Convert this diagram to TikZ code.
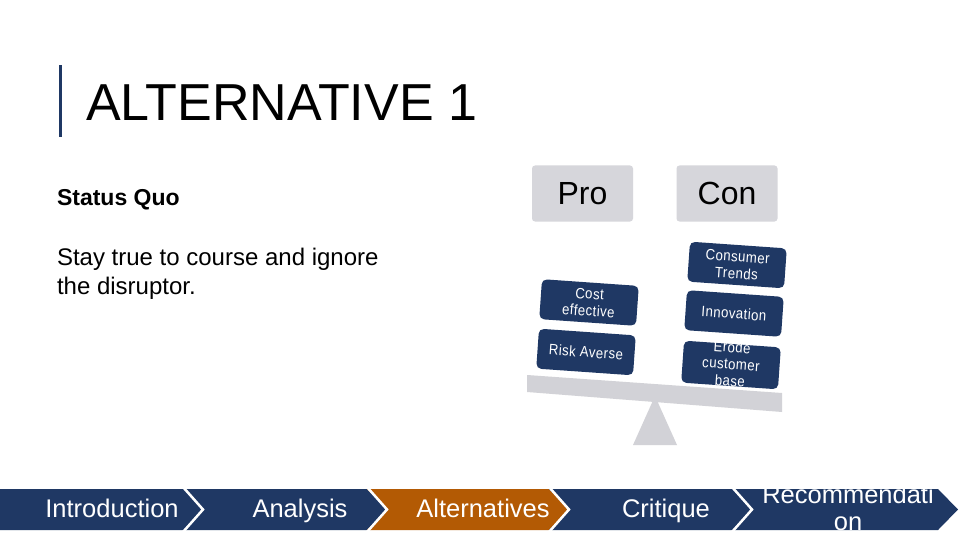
\documentclass[tikz,border=0pt]{standalone}
\usepackage{fontspec}
\setmainfont{Liberation Sans}
\newfontfamily\boxfont[FakeStretch=0.88,LetterSpace=3]{Liberation Sans}
\definecolor{navy}{HTML}{1F3864}
\definecolor{rust}{HTML}{B35A04}
\definecolor{lgray}{HTML}{D6D6DB}
\definecolor{pgray}{HTML}{D2D2D7}
\newcommand\fsz[2]{\fontsize{#1}{#2}\selectfont}
\tikzset{
  txt/.style={inner sep=0, outer sep=0, text=black},
  headbox/.style={fill=lgray, rounded corners=3pt, minimum width=101pt, minimum height=56pt, inner sep=0, font=\fsz{32}{36}},
  navybox/.style={fill=navy, rounded corners=5pt, minimum width=97pt, minimum height=40pt, inner sep=0, rotate=-4},
  boxtext/.style={text=white, font=\boxfont\fsz{15}{17}, align=center, rotate=-4, inner sep=0},
  chev/.style={fill=navy},
  chevgap/.style={draw=white, line width=2.5pt},
  chevtext/.style={text=white, font=\fsz{25.5}{27}, inner sep=0, anchor=base},
  plank/.style={fill=pgray}
}
\begin{document}
\begin{tikzpicture}[x=1pt,y=-1pt]
\useasboundingbox (0,0) rectangle (960,540);
\fill[white] (0,0) rectangle (960,540);

% title
\fill[navy] (59,65) rectangle (62,137);
\node[txt, anchor=base west, font=\fsz{52}{60}] (title) at (86,121) {ALTERNATIVE 1};

% left text
\node[txt, anchor=base west, font=\bfseries\fsz{23}{26}] (sq) at (57,205) {Status Quo};
\node[txt, anchor=base west, font=\fsz{24}{29}] (l1) at (57,265) {Stay true to course and ignore};
\node[txt, anchor=base west, font=\fsz{24}{29}] (l2) at (57,294) {the disruptor.};

% Pro / Con headers
\node[headbox] (pro) at (582.5,193.5) {Pro};
\node[headbox] (con) at (727,193.5) {Con};

% fulcrum and plank
\fill[plank] (655,396) -- (677,445) -- (633,445) -- cycle;
\fill[plank] (527,375) -- (782,393) -- (782,412) -- (527,392) -- cycle;

% pro boxes
\node[navybox] (cost) at (589,302.5) {};
\node[boxtext] (costt) at (cost.center) {Cost\\effective};
\node[navybox] (risk) at (586,352) {};
\node[boxtext] (riskt) at (risk.center) {Risk Averse};

% con boxes
\node[navybox] (cons) at (737,265) {};
\node[boxtext] (const) at (cons.center) {Consumer\\Trends};
\node[navybox] (inno) at (734,313.5) {};
\node[boxtext] (innot) at (inno.center) {Innovation};
\node[navybox, minimum height=42pt] (erode) at (731,365) {};
\node[boxtext] (erodet) at ([yshift=1pt]erode.center) {Erode\\customer\\base};

% bottom chevron bar
\path[chev] (-3,489) -- (183,489) -- (203,509.5) -- (183,530) -- (-3,530) -- cycle;
\path[chev] (183,489) -- (367,489) -- (387,509.5) -- (367,530) -- (183,530) -- (203,509.5) -- cycle;
\path[chev, fill=rust] (367,489) -- (549,489) -- (569,509.5) -- (549,530) -- (367,530) -- (387,509.5) -- cycle;
\path[chev] (549,489) -- (732,489) -- (752,509.5) -- (732,530) -- (549,530) -- (569,509.5) -- cycle;
\path[chev] (732,489) -- (938,489) -- (958,509.5) -- (938,530) -- (732,530) -- (752,509.5) -- cycle;
\draw[chevgap] (183,487) -- (203,509.5) -- (183,532);
\draw[chevgap] (367,487) -- (387,509.5) -- (367,532);
\draw[chevgap] (549,487) -- (569,509.5) -- (549,532);
\draw[chevgap] (732,487) -- (752,509.5) -- (732,532);

\node[chevtext] (intro) at (112,517) {Introduction};
\node[chevtext] (anal) at (300,517) {Analysis};
\node[chevtext] (alt) at (483,517) {Alternatives};
\node[chevtext] (crit) at (666,517) {Critique};
\node[chevtext] (rec1) at (848,503) {Recommendati};
\node[chevtext] (rec2) at (848,530) {on};
\end{tikzpicture}
\end{document}
